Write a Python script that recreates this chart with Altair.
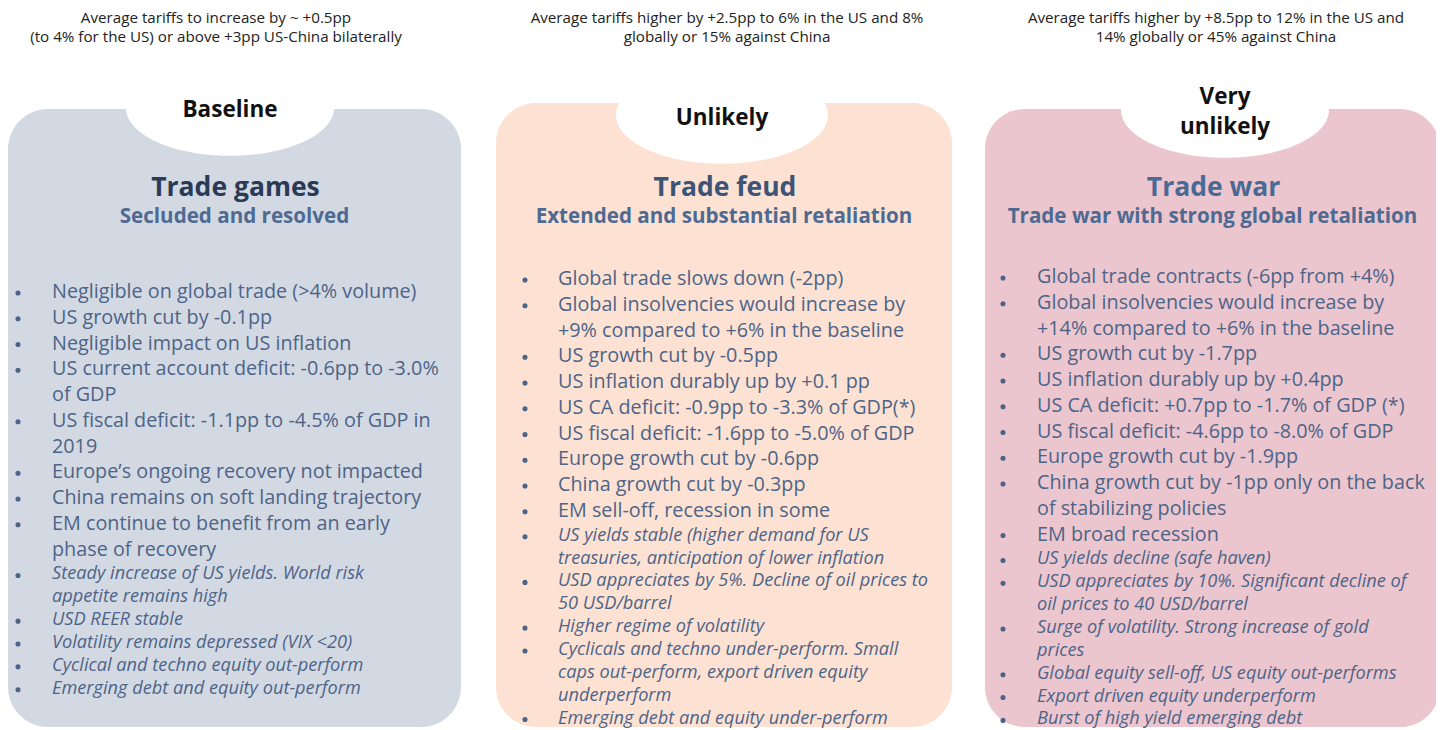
import altair as alt
import pandas as pd

# ---------------- content ----------------
captions = [
    ["Average tariffs to increase by ~ +0.5pp",
     "(to 4% for the US) or above +3pp US-China bilaterally"],
    ["Average tariffs higher by +2.5pp to 6% in the US and 8%",
     "globally or 15% against China"],
    ["Average tariffs higher by +8.5pp to 12% in the US and",
     "14% globally or 45% against China"],
]
tabs = [["Baseline"], ["Unlikely"], ["Very", "unlikely"]]
titles = ["Trade games", "Trade feud", "Trade war"]
subtitles = ["Secluded and resolved",
             "Extended and substantial retaliation",
             "Trade war with strong global retaliation"]

macro_baseline = [
    ["Negligible on global trade (>4% volume)"],
    ["US growth cut by -0.1pp"],
    ["Negligible impact on US inflation"],
    ["US current account deficit: -0.6pp to -3.0%", "of GDP"],
    ["US fiscal deficit: -1.1pp to -4.5% of GDP in", "2019"],
    ["Europe\u2019s ongoing recovery not impacted"],
    ["China remains on soft landing trajectory"],
    ["EM continue to benefit from an early", "phase of recovery"],
]
market_baseline = [
    ["Steady increase of US yields. World risk", "appetite remains high"],
    ["USD REER stable"],
    ["Volatility remains depressed (VIX <20)"],
    ["Cyclical and techno equity out-perform"],
    ["Emerging debt and equity out-perform"],
]
macro_feud = [
    ["Global trade slows down (-2pp)"],
    ["Global insolvencies would increase by", "+9% compared to +6% in the baseline"],
    ["US growth cut by -0.5pp"],
    ["US inflation durably up by +0.1 pp"],
    ["US CA deficit: -0.9pp to -3.3% of GDP(*)"],
    ["US fiscal deficit: -1.6pp to -5.0% of GDP"],
    ["Europe growth cut by -0.6pp"],
    ["China growth cut by -0.3pp"],
    ["EM sell-off, recession in some"],
]
market_feud = [
    ["US yields stable (higher demand for US", "treasuries, anticipation of lower inflation"],
    ["USD appreciates by 5%. Decline of oil prices to", "50 USD/barrel"],
    ["Higher regime of volatility"],
    ["Cyclicals and techno under-perform. Small", "caps out-perform, export driven equity", "underperform"],
    ["Emerging debt and equity under-perform"],
]
macro_war = [
    ["Global trade contracts (-6pp from +4%)"],
    ["Global insolvencies would increase by", "+14% compared to +6% in the baseline"],
    ["US growth cut by -1.7pp"],
    ["US inflation durably up by +0.4pp"],
    ["US CA deficit: +0.7pp to -1.7% of GDP  (*)"],
    ["US fiscal deficit: -4.6pp to -8.0% of GDP"],
    ["Europe growth cut by -1.9pp"],
    ["China growth cut by -1pp only on the back", "of stabilizing policies"],
    ["EM broad recession"],
]
market_war = [
    ["US yields decline (safe haven)"],
    ["USD appreciates by 10%. Significant decline of", "oil prices to 40 USD/barrel"],
    ["Surge of volatility. Strong increase of gold", "prices"],
    ["Global equity sell-off, US equity out-performs"],
    ["Export driven equity underperform"],
    ["Burst of high yield emerging debt"],
]
macro_lists = [macro_baseline, macro_feud, macro_war]
market_lists = [market_baseline, market_feud, market_war]

# ---------------- layout / style ----------------
W, H = 1444, 730
panel_x0 = [8, 496, 985]
panel_x1 = [461, 952, 1440]
panel_top = [109, 103, 109]
panel_bottom = [727, 727, 727]
panel_fill = ["#d3d9e3", "#fde2d3", "#ecc6ce"]
caption_cx = [216, 727, 1216]
tab_cx = [230, 722, 1225]
tab_cy = [108, 115, 110]
tab_w = [208, 212, 208]
tab_label_y = [[110], [118], [97, 127]]
title_color = ["#2b3a55", "#3b5478", "#4a6a96"]
bullet_x = [18, 525, 1003]
text_x = [52, 558, 1037]
list_y0 = [292, 279, 277]
step_macro = 25.75
step_market = 22.85
body_color = "#4d6488"
sub_color = "#4e6a92"

FONT = "Open Sans"

xs = alt.Scale(domain=[8, W - 8], range=[0, W - 16])
ys = alt.Scale(domain=[H, 8], range=[H - 8, 0])

# panels
panels = pd.DataFrame({
    "x": panel_x0, "x2": panel_x1, "y": panel_top, "y2": panel_bottom,
    "fill": panel_fill,
})
rects = alt.Chart(panels).mark_rect(cornerRadius=40).encode(
    x=alt.X("x:Q", scale=xs, axis=None),
    x2="x2:Q",
    y=alt.Y("y:Q", scale=ys, axis=None),
    y2="y2:Q",
    color=alt.Color("fill:N", scale=None),
)

# white tabs (ellipses)
tabs_df = pd.DataFrame({"x": tab_cx, "y": tab_cy, "size": [w * w for w in tab_w]})
ellipse = "M -1 0 A 1 0.46 0 1 0 1 0 A 1 0.46 0 1 0 -1 0 Z"
tab_marks = alt.Chart(tabs_df).mark_point(
    shape=ellipse, filled=True, fill="white", opacity=1, strokeWidth=0
).encode(
    x=alt.X("x:Q", scale=xs, axis=None),
    y=alt.Y("y:Q", scale=ys, axis=None),
    size=alt.Size("size:Q", scale=None),
)

def text_layer(df, **kw):
    return alt.Chart(df).mark_text(font=FONT, baseline="middle", **kw).encode(
        x=alt.X("x:Q", scale=xs, axis=None),
        y=alt.Y("y:Q", scale=ys, axis=None),
        text="text:N",
    )

# captions
cap_rows = []
for i, lines in enumerate(captions):
    for j, t in enumerate(lines):
        cap_rows.append({"x": caption_cx[i], "y": 17.5 + 19 * j, "text": t})
cap_layer = text_layer(pd.DataFrame(cap_rows), fontSize=15.2, color="#222222", align="center")

# tab labels
tab_rows = []
for i, lines in enumerate(tabs):
    for j, t in enumerate(lines):
        tab_rows.append({"x": tab_cx[i], "y": tab_label_y[i][j], "text": t})
tab_layer = text_layer(pd.DataFrame(tab_rows), fontSize=22.5, fontWeight="bold",
                       color="#111111", align="center")

# titles
title_rows = [{"x": (panel_x0[i] + panel_x1[i]) / 2 + 1, "y": 188, "text": t,
               "c": title_color[i]} for i, t in enumerate(titles)]
title_layer = alt.Chart(pd.DataFrame(title_rows)).mark_text(
    font=FONT, baseline="middle", fontSize=26.5, fontWeight="bold", align="center"
).encode(
    x=alt.X("x:Q", scale=xs, axis=None), y=alt.Y("y:Q", scale=ys, axis=None),
    text="text:N", color=alt.Color("c:N", scale=None),
)
sub_rows = [{"x": (panel_x0[i] + panel_x1[i]) / 2, "y": 217, "text": t}
            for i, t in enumerate(subtitles)]
sub_layer = text_layer(pd.DataFrame(sub_rows), fontSize=20.6, fontWeight="bold",
                       color=sub_color, align="center")

# bullet lists
macro_rows, market_rows, bullet_rows = [], [], []
for i in range(3):
    y = list_y0[i]
    for item in macro_lists[i]:
        bullet_rows.append({"x": bullet_x[i], "y": y + 1})
        for t in item:
            macro_rows.append({"x": text_x[i], "y": y, "text": t})
            y += step_macro
    y -= 0.8
    for item in market_lists[i]:
        bullet_rows.append({"x": bullet_x[i], "y": y + 1})
        for t in item:
            market_rows.append({"x": text_x[i], "y": y, "text": t})
            y += step_market

macro_layer = text_layer(pd.DataFrame(macro_rows), fontSize=19.8, color=body_color, align="left")
market_layer = text_layer(pd.DataFrame(market_rows), fontSize=18.2, fontStyle="italic",
                          color=body_color, align="left")
bullet_layer = alt.Chart(pd.DataFrame(bullet_rows)).mark_circle(
    size=26, color=body_color, opacity=1
).encode(
    x=alt.X("x:Q", scale=xs, axis=None),
    y=alt.Y("y:Q", scale=ys, axis=None),
)

chart = alt.layer(
    rects, tab_marks, cap_layer, tab_layer, title_layer, sub_layer,
    macro_layer, market_layer, bullet_layer,
).properties(
    width=W - 16, height=H - 8, padding=0,
    autosize=alt.AutoSizeParams(type="none"),
).configure_view(stroke=None)

chart.save("out.html", embed_options={"renderer": "svg", "actions": False})
